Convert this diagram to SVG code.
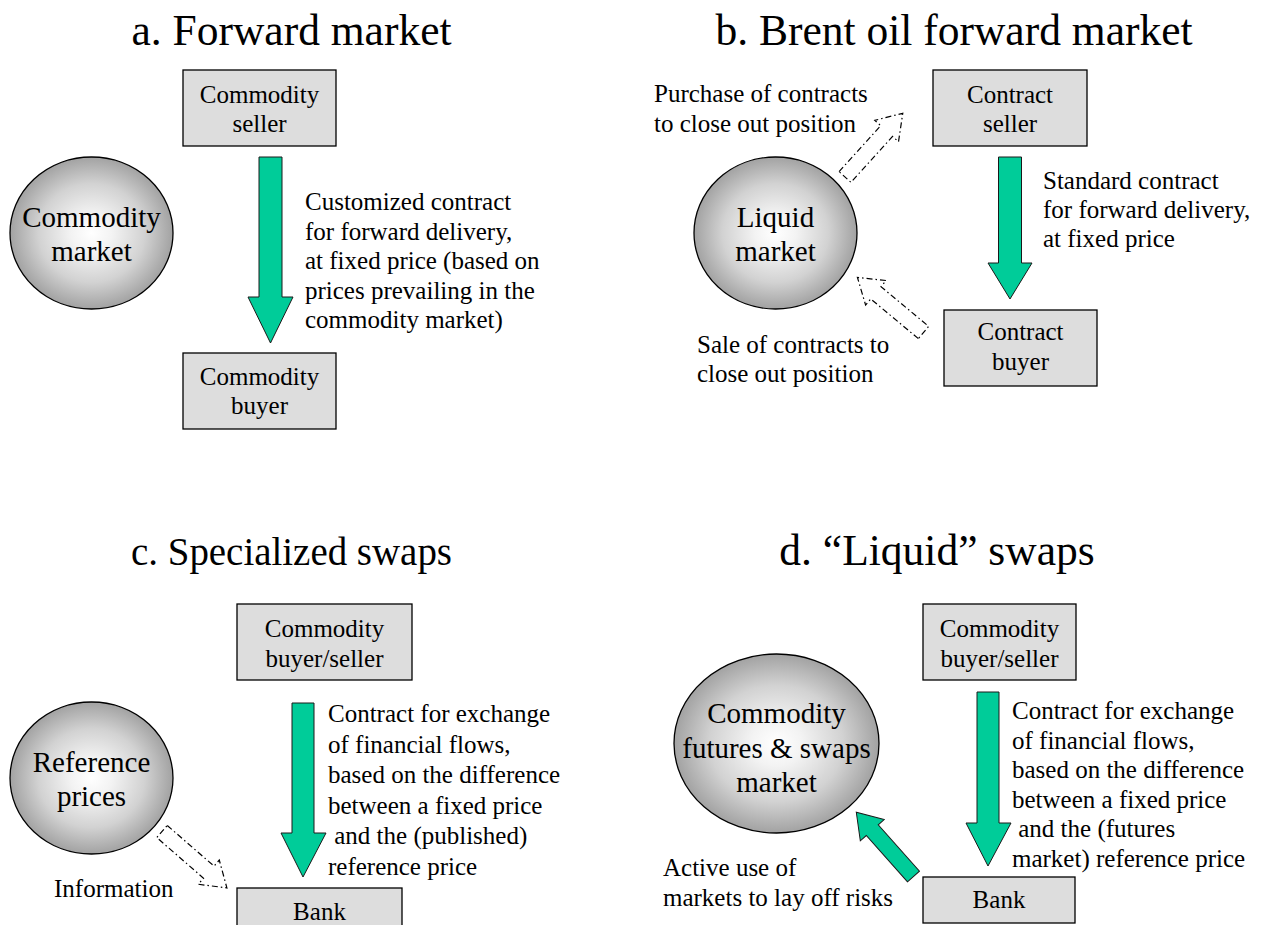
<svg xmlns="http://www.w3.org/2000/svg" width="1271" height="925" viewBox="0 0 1271 925">
<style>
text{font-family:"Liberation Serif","Times New Roman",serif;fill:#000}
.title{font-size:43.5px;text-anchor:middle}
.box{fill:#dddddd;stroke:#000;stroke-width:1.3}
.bt{font-size:25px;text-anchor:middle}
.ct{font-size:29px;text-anchor:middle}
.lbl{font-size:25px}
.circ{fill:url(#sphere);stroke:#000;stroke-width:1.3}
.green{fill:#00cc99;stroke:#1a1a1a;stroke-width:1}
.dash{fill:#fff;stroke:#000;stroke-width:1.2;stroke-dasharray:6 3 1.5 3}
</style>
<defs>
<radialGradient id="sphere" cx="50%" cy="50%" r="50%">
<stop offset="0" stop-color="#ffffff"/>
<stop offset="0.25" stop-color="#f3f3f3"/>
<stop offset="0.65" stop-color="#d2d2d2"/>
<stop offset="1" stop-color="#a2a2a2"/>
</radialGradient>
<path id="blockArrow" d="M0,-8 L62,-8 L62,-16 L86,0 L62,16 L62,8 L0,8 Z"/>
</defs>
<rect width="1271" height="925" fill="#fff"/>

<g id="titles">
<text class="title" x="291.5" y="45">a. Forward market</text>
<text class="title" x="954" y="45">b. Brent oil forward market</text>
<text class="title" x="291.5" y="565" style="font-size:41px" textLength="321" lengthAdjust="spacingAndGlyphs">c. Specialized swaps</text>
<text class="title" x="937" y="565">d. “Liquid” swaps</text>
</g>

<g id="connectors">
<polygon class="green" points="259,157 282,157 282,297 293,297 270.5,343 248,297 259,297"/>
<polygon class="green" points="998.5,157 1021.5,157 1021.5,263 1032,263 1010,299 988,263 998.5,263"/>
<polygon class="green" points="292,703 314,703 314,833 326,833 303,877 281,833 292,833"/>
<polygon class="green" points="977,692 999,692 999,823 1011,823 988,866 966,823 977,823"/>
<use href="#blockArrow" class="green" transform="translate(913.5,876.5) rotate(228.3)"/>
<use href="#blockArrow" class="dash" transform="translate(845,177) rotate(-47.8)"/>
<use href="#blockArrow" class="dash" transform="translate(923.5,332.5) rotate(219.8)"/>
<use href="#blockArrow" class="dash" transform="translate(162,831.5) rotate(41)"/>
</g>

<g id="a-seller"><rect class="box" x="183" y="70" width="153" height="76"/>
<text class="bt" x="259.5" y="103">Commodity</text><text class="bt" x="259.5" y="132">seller</text></g>
<g id="a-buyer"><rect class="box" x="183" y="353" width="153" height="76"/>
<text class="bt" x="259.5" y="385">Commodity</text><text class="bt" x="259.5" y="414">buyer</text></g>
<g id="a-market"><ellipse class="circ" cx="91.5" cy="233" rx="81.5" ry="76"/>
<text class="ct" x="91.5" y="227">Commodity</text><text class="ct" x="91.5" y="261">market</text></g>
<g id="a-label">
<text class="lbl" x="305" y="210">Customized contract</text>
<text class="lbl" x="305" y="239.5">for forward delivery,</text>
<text class="lbl" x="305" y="269">at fixed price (based on</text>
<text class="lbl" x="305" y="298.5">prices prevailing in the</text>
<text class="lbl" x="305" y="328">commodity market)</text>
</g>

<g id="b-seller"><rect class="box" x="933" y="70" width="154" height="76"/>
<text class="bt" x="1010" y="103">Contract</text><text class="bt" x="1010" y="132">seller</text></g>
<g id="b-buyer"><rect class="box" x="944" y="310" width="153" height="76"/>
<text class="bt" x="1020.5" y="340">Contract</text><text class="bt" x="1020.5" y="370">buyer</text></g>
<g id="b-market"><ellipse class="circ" cx="775.5" cy="233" rx="81.5" ry="76"/>
<text class="ct" x="775.5" y="227">Liquid</text><text class="ct" x="775.5" y="261">market</text></g>
<g id="b-labels">
<text class="lbl" x="1043" y="189">Standard contract</text>
<text class="lbl" x="1043" y="218">for forward delivery,</text>
<text class="lbl" x="1043" y="247">at fixed price</text>
<text class="lbl" x="654" y="102">Purchase of contracts</text>
<text class="lbl" x="654" y="132">to close out position</text>
<text class="lbl" x="697" y="353">Sale of contracts to</text>
<text class="lbl" x="697" y="382">close out position</text>
</g>

<g id="c-party"><rect class="box" x="237" y="604" width="175" height="76"/>
<text class="bt" x="324.5" y="637">Commodity</text><text class="bt" x="324.5" y="667">buyer/seller</text></g>
<g id="c-bank"><rect class="box" x="237" y="888" width="165" height="50"/>
<text class="bt" x="319.5" y="920">Bank</text></g>
<g id="c-ref"><ellipse class="circ" cx="91.5" cy="778" rx="81.5" ry="76"/>
<text class="ct" x="91.5" y="772">Reference</text><text class="ct" x="91.5" y="806">prices</text></g>
<g id="c-labels">
<text class="lbl" x="328" y="722">Contract for exchange</text>
<text class="lbl" x="328" y="752.5">of financial flows,</text>
<text class="lbl" x="328" y="783">based on the difference</text>
<text class="lbl" x="328" y="813.5">between a fixed price</text>
<text class="lbl" x="328" y="844" xml:space="preserve"> and the (published)</text>
<text class="lbl" x="328" y="874.5">reference price</text>
<text class="lbl" x="54" y="897">Information</text>
</g>

<g id="d-party"><rect class="box" x="923" y="604" width="153" height="76"/>
<text class="bt" x="999.5" y="637">Commodity</text><text class="bt" x="999.5" y="667">buyer/seller</text></g>
<g id="d-bank"><rect class="box" x="923" y="877" width="152" height="46"/>
<text class="bt" x="999" y="908">Bank</text></g>
<g id="d-market"><ellipse class="circ" cx="776.5" cy="743.5" rx="102.5" ry="89.5"/>
<text class="ct" x="776.5" y="723">Commodity</text><text class="ct" x="776.5" y="758">futures &amp; swaps</text><text class="ct" x="776.5" y="792">market</text></g>
<g id="d-labels">
<text class="lbl" x="1012" y="719">Contract for exchange</text>
<text class="lbl" x="1012" y="748.5">of financial flows,</text>
<text class="lbl" x="1012" y="778">based on the difference</text>
<text class="lbl" x="1012" y="807.5">between a fixed price</text>
<text class="lbl" x="1012" y="837" xml:space="preserve"> and the (futures</text>
<text class="lbl" x="1012" y="866.5">market) reference price</text>
<text class="lbl" x="663" y="876">Active use of</text>
<text class="lbl" x="663" y="906">markets to lay off risks</text>
</g>
</svg>
